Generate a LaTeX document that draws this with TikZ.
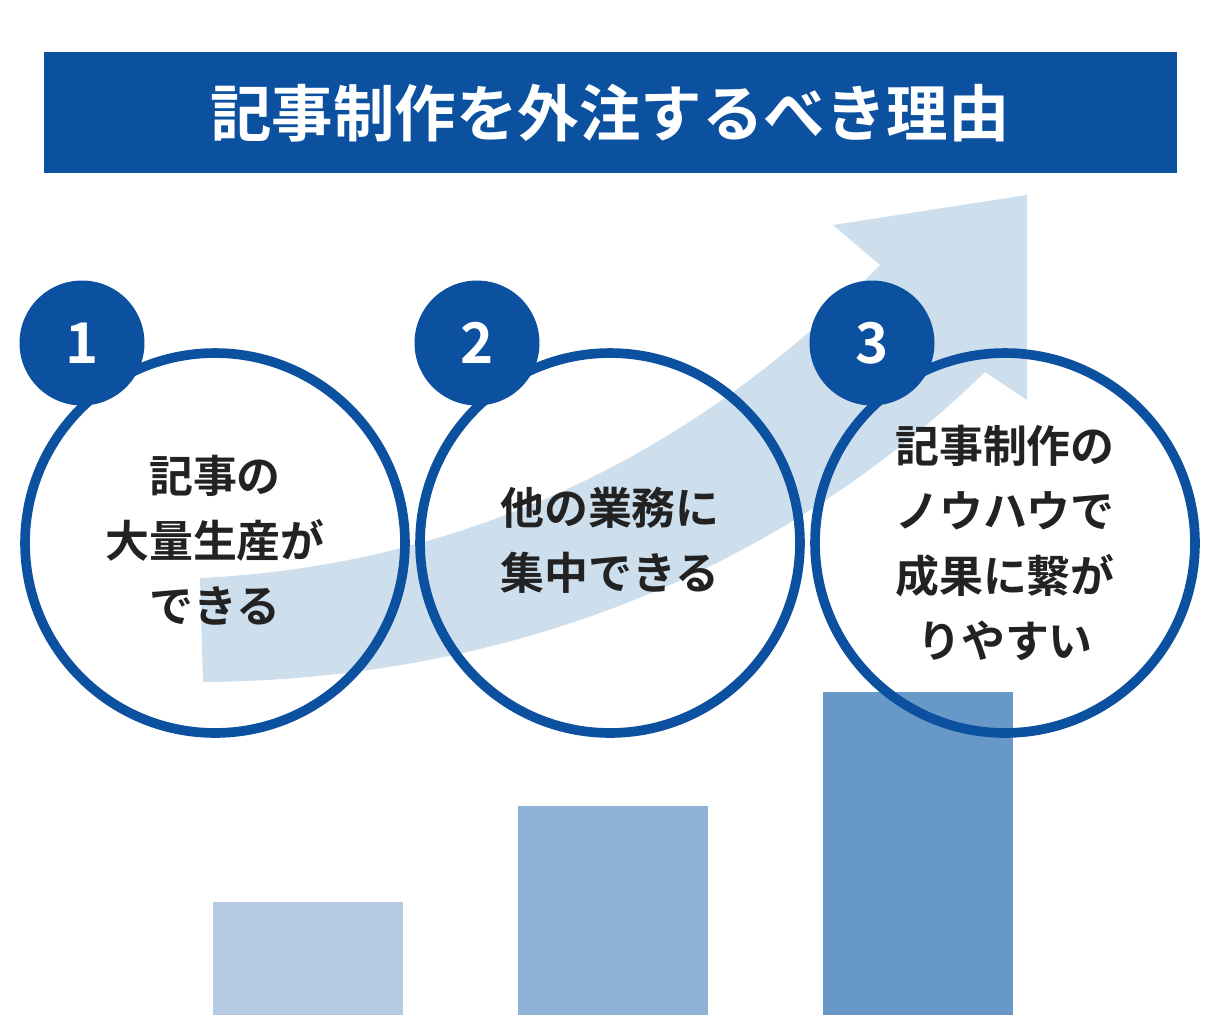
\documentclass[tikz,border=0pt]{standalone}
\usepackage{fontspec}
\newfontfamily\cjk{Noto Sans CJK JP}[BoldFont={Noto Sans CJK JP Bold}]
\definecolor{titleblue}{RGB}{12,80,160}
\definecolor{arrowblue}{RGB}{205,222,237}
\definecolor{barlight}{RGB}{181,202,226}
\definecolor{barmid}{RGB}{142,178,214}
\definecolor{bardark}{RGB}{104,152,200}
\definecolor{textgray}{RGB}{34,34,34}

\tikzset{
    point/.style={circle, draw=titleblue, line width=5.5pt, minimum size=7.6cm, inner sep=0pt},
    badge/.style={circle, fill=titleblue, minimum size=2.5cm, inner sep=0pt, text=white, font=\cjk\bfseries\fontsize{32}{32}\selectfont},
    reason/.style={align=center, text=textgray, font=\cjk\bfseries\fontsize{25}{37}\selectfont}
}

\begin{document}
\begin{tikzpicture}[x=0.02cm, y=-0.02cm]
    \useasboundingbox (0,0) rectangle (1220,1015);

    % Title
    \fill[titleblue] (44,52) rectangle (1177,173);
    \node[text=white, font=\cjk\bfseries\fontsize{35}{35}\selectfont] (title) at (610,113) {記事制作を外注するべき理由};

    % Bars
    \fill[barlight] (213,902) rectangle (403,1015);
    \fill[barmid] (518,806) rectangle (708,1015);
    \fill[bardark] (823,692) rectangle (1013,1015);

    % Growth arrow
    \fill[arrowblue] (200,578) .. controls (470,565) and (700,450) .. (880,265)
        -- (833,225) -- (1027,195) -- (1027,400) -- (985,372)
        .. controls (760,590) and (480,680) .. (203,682) -- cycle;

    % Circles
    \foreach \n/\x in {1/215, 2/610, 3/1005} {
        \node[point] (c\n) at (\x,543) {};
    }
    \foreach \n/\x in {1/82, 2/477, 3/872} {
        \node[badge] (b\n) at (\x,343) {\n};
    }

    % Texts
    \node[reason] (t1) at (215,540) {記事の\\大量生産が\\できる};
    \node[reason] (t2) at (610,540) {他の業務に\\集中できる};
    \node[reason] (t3) at (1005,543) {記事制作の\\ノウハウで\\成果に繋が\\りやすい};
\end{tikzpicture}
\end{document}
